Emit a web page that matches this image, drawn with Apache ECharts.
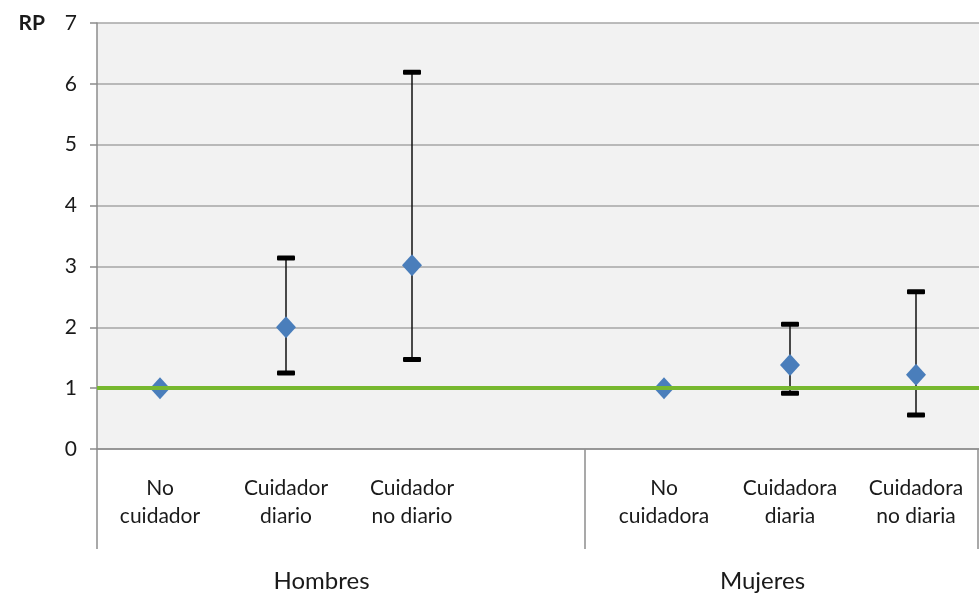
<!DOCTYPE html>
<html>
<head>
<meta charset="utf-8">
<script src="https://cdn.jsdelivr.net/npm/echarts@6/dist/echarts.min.js"></script>
<style>
  html, body { margin: 0; padding: 0; background: #fff; }
  #chart { width: 979px; height: 594px; }
</style>
</head>
<body>
<div id="chart"></div>
<script>
const categories = [
  'No\ncuidador', 'Cuidador\ndiario', 'Cuidador\nno diario', '',
  'No\ncuidadora', 'Cuidadora\ndiaria', 'Cuidadora\nno diaria'
];
const groups = ['Hombres', 'Mujeres'];
const rpValues = [1, 2.0, 3.02, null, 1, 1.38, 1.22];
const lowValues = [null, 1.25, 1.47, null, null, 0.915, 0.56];
const highValues = [null, 3.14, 6.19, null, null, 2.05, 2.585];
const yTicks = [0, 1, 2, 3, 4, 5, 6, 7];
const reference = 1;

const font = 'Lato';
const textColor = '#1a1a1a';
const axisColor = '#8c8c8c';

const errorData = categories.map((c, i) =>
  lowValues[i] == null ? null : [i, lowValues[i], highValues[i]]
).filter(Boolean);

const chart = echarts.init(document.getElementById('chart'), null, { renderer: 'canvas' });

chart.setOption({
  animation: false,
  backgroundColor: '#fff',
  textStyle: { fontFamily: font },
  grid: {
    left: 97, right: 0, top: 23, bottom: 145,
    show: true, backgroundColor: '#f2f2f2', borderWidth: 0
  },
  xAxis: [
    {
      type: 'category',
      data: categories,
      boundaryGap: true,
      axisLine: { show: true, lineStyle: { color: axisColor, width: 1.5 } },
      axisTick: { show: false },
      axisLabel: {
        interval: 0, margin: 25, fontSize: 21, lineHeight: 28,
        color: textColor, fontFamily: font
      },
      splitLine: { show: false }
    },
    {
      type: 'category',
      data: groups,
      position: 'bottom',
      axisLine: { show: false },
      axisTick: { show: false },
      axisLabel: {
        margin: 120, fontSize: 24, color: textColor, fontFamily: font,
        padding: [0, 0, 0, 8]
      },
      splitLine: { show: false }
    }
  ],
  yAxis: {
    type: 'value',
    min: yTicks[0],
    max: yTicks[yTicks.length - 1],
    interval: 1,
    name: 'RP',
    nameLocation: 'end',
    nameGap: 0,
    nameTextStyle: {
      fontSize: 21, fontWeight: 'bold', color: textColor, fontFamily: font,
      align: 'right', verticalAlign: 'middle', padding: [0, 52, 0, 0]
    },
    axisLine: { show: true, lineStyle: { color: axisColor, width: 1.5 } },
    axisTick: { show: true, length: 7, lineStyle: { color: axisColor, width: 1.5 } },
    axisLabel: { margin: 20, fontSize: 21, color: textColor, fontFamily: font },
    splitLine: { show: true, lineStyle: { color: '#a6a6a6', width: 1.5 } }
  },
  graphic: [
    { type: 'line', shape: { x1: 97, y1: 449, x2: 97, y2: 549 }, style: { stroke: axisColor, lineWidth: 1.5 } },
    { type: 'line', shape: { x1: 585, y1: 449, x2: 585, y2: 549 }, style: { stroke: axisColor, lineWidth: 1.5 } },
    { type: 'line', shape: { x1: 978, y1: 449, x2: 978, y2: 549 }, style: { stroke: axisColor, lineWidth: 1.5 } }
  ],
  series: [
    {
      type: 'custom',
      data: errorData,
      z: 2,
      renderItem: (params, api) => {
        const x = api.value(0);
        const lo = api.coord([x, api.value(1)]);
        const hi = api.coord([x, api.value(2)]);
        const half = 9;
        return {
          type: 'group',
          children: [
            { type: 'line', shape: { x1: lo[0], y1: lo[1], x2: hi[0], y2: hi[1] },
              style: { stroke: '#111', lineWidth: 1.5 } },
            { type: 'rect', shape: { x: lo[0] - half, y: lo[1] - 2.5, width: half * 2, height: 5, r: 1 },
              style: { fill: '#000' } },
            { type: 'rect', shape: { x: hi[0] - half, y: hi[1] - 2.5, width: half * 2, height: 5, r: 1 },
              style: { fill: '#000' } }
          ]
        };
      }
    },
    {
      type: 'scatter',
      data: rpValues,
      symbol: 'diamond',
      symbolSize: [20, 22],
      z: 4,
      itemStyle: { color: '#4a7ebb', opacity: 1 },
      markLine: {
        silent: true,
        symbol: 'none',
        label: { show: false },
        lineStyle: { color: '#77b82f', width: 4, type: 'solid' },
        data: [{ yAxis: reference }]
      }
    }
  ]
});
</script>
</body>
</html>
